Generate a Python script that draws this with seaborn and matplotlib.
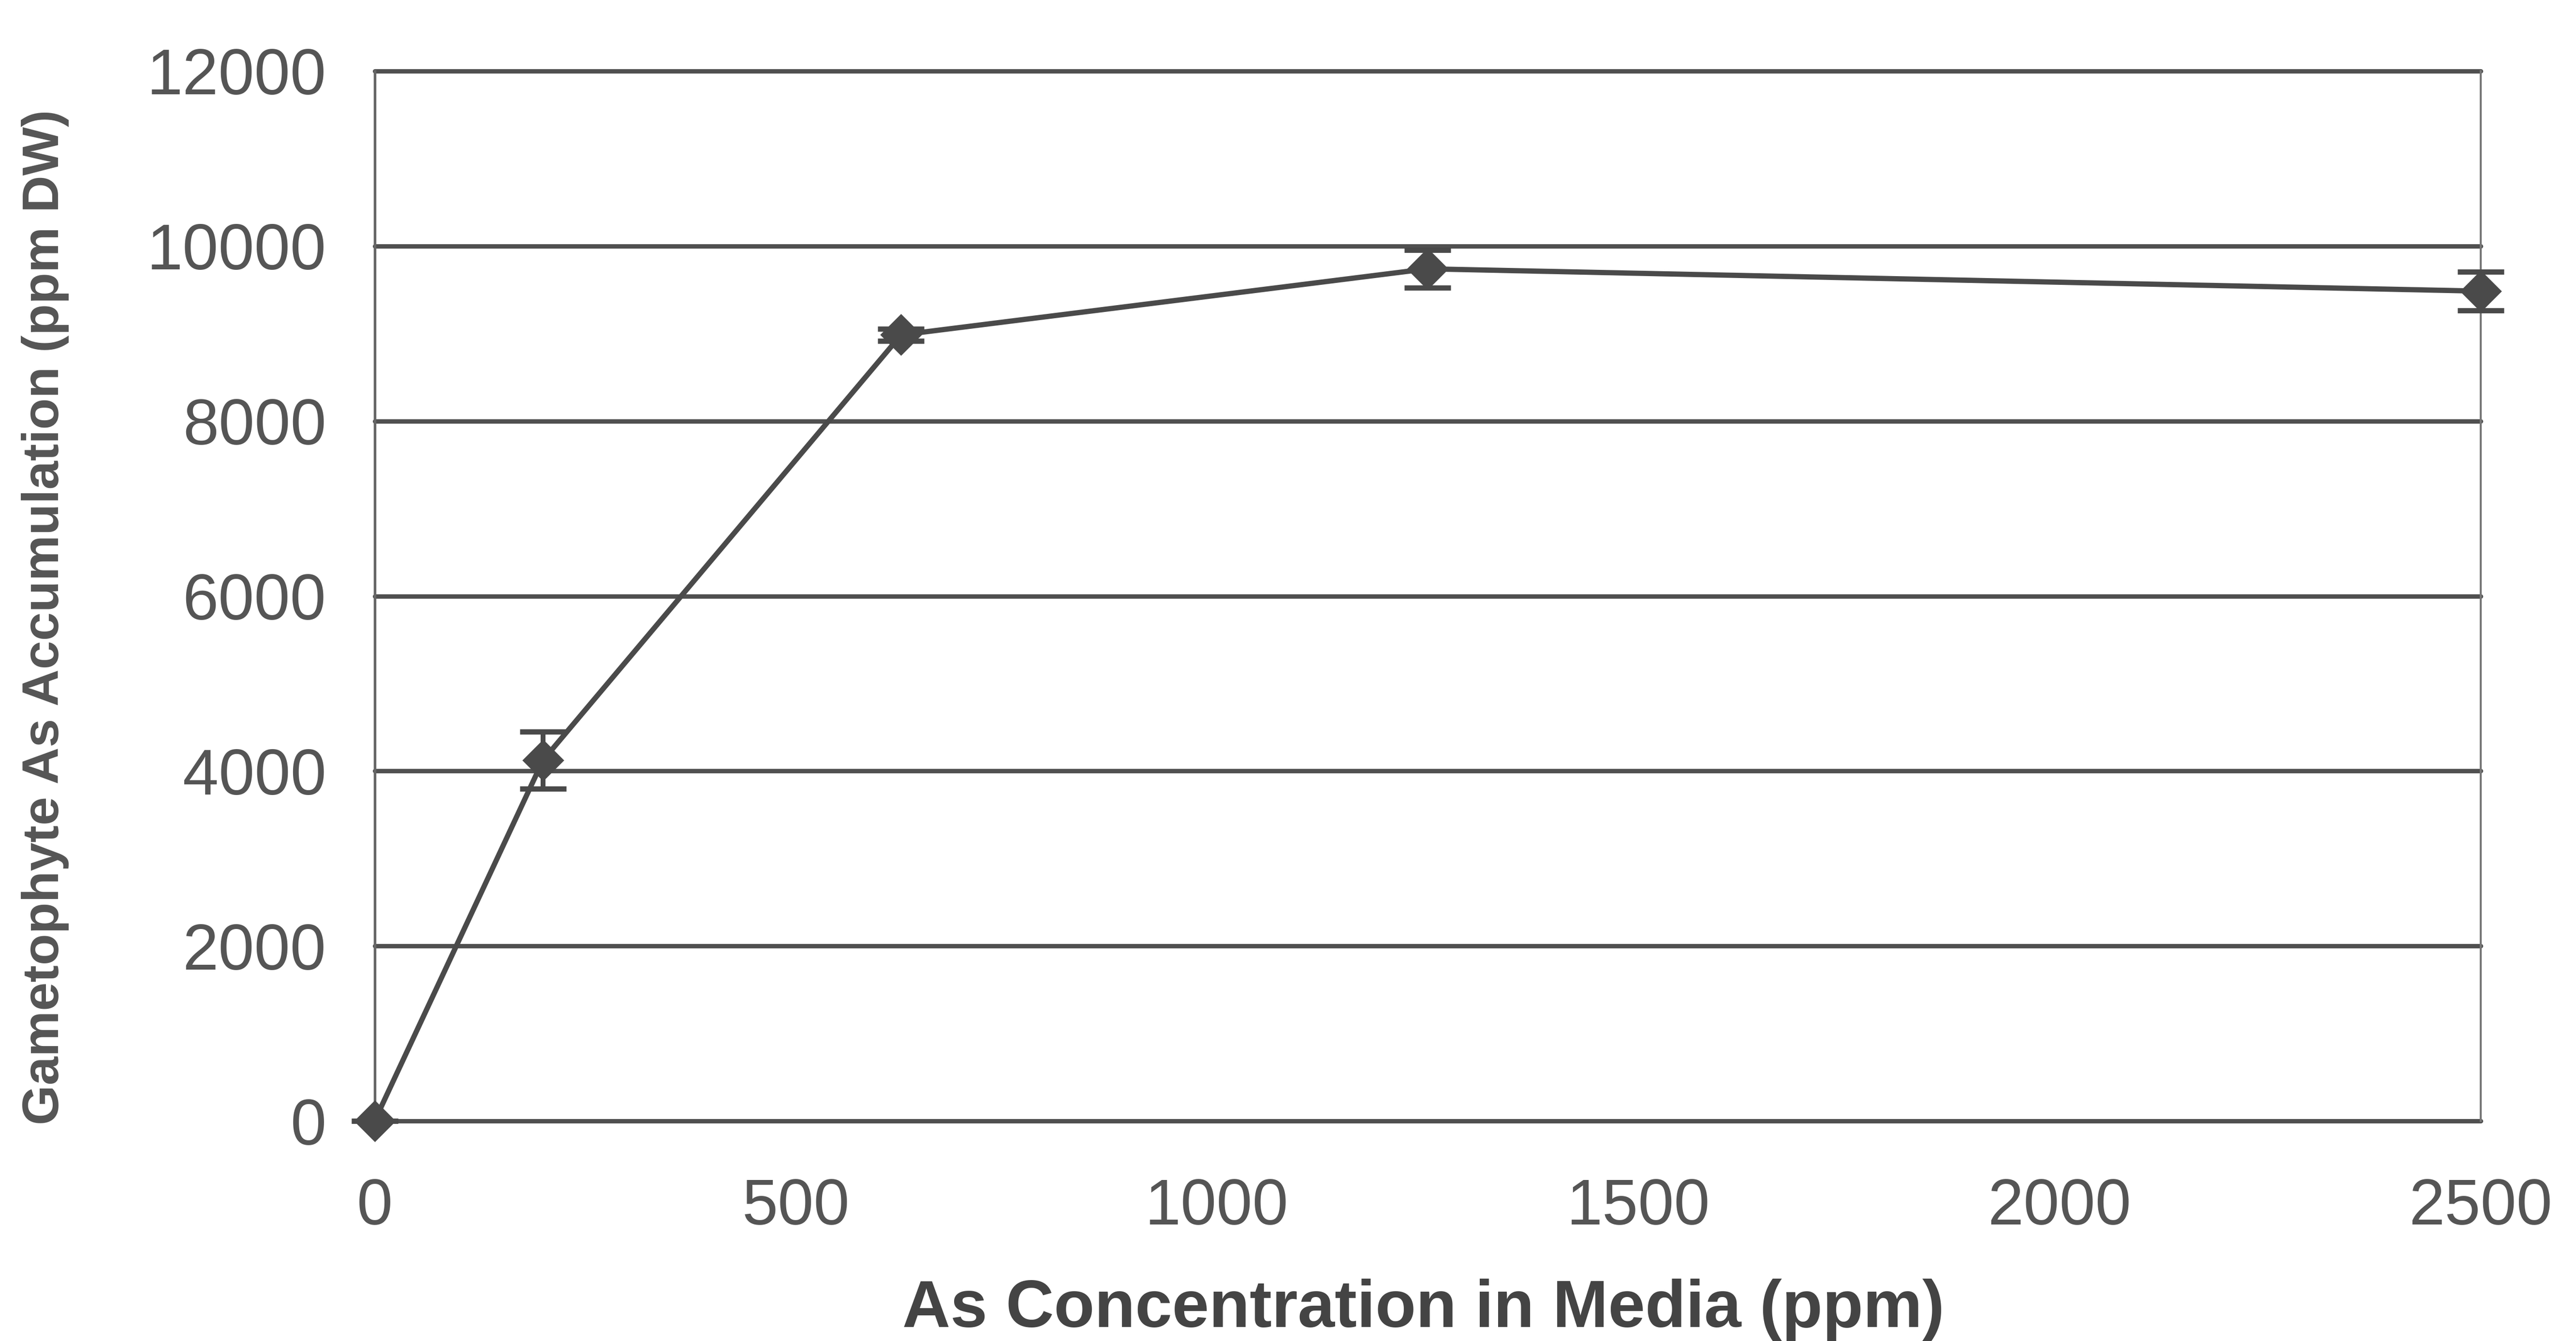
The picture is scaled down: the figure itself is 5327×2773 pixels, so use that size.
import matplotlib
matplotlib.use("Agg")
import matplotlib.pyplot as plt
import seaborn as sns
import pandas as pd

# data
conc = [0, 200, 625, 1250, 2500]
accum = [0, 4125, 8985, 9740, 9485]
err = [0, 325, 70, 215, 222]

x_ticks = [0, 500, 1000, 1500, 2000, 2500]
y_ticks = [0, 2000, 4000, 6000, 8000, 10000, 12000]

sns.set_style("white")
plt.rcParams['font.family'] = ['Liberation Sans', 'DejaVu Sans']

ink = "#4a4a4a"
df = pd.DataFrame({"conc": conc, "accum": accum, "err": err})

fig = plt.figure(figsize=(5327 / 300, 2773 / 300), dpi=300)
ax = fig.add_axes([0.1454, 0.164, 0.963 - 0.1454, 0.947 - 0.164])

# horizontal gridlines
for yv in y_ticks:
    ax.axhline(yv, color="#505050", lw=2.2, zorder=1, clip_on=False)

ax.errorbar(df["conc"], df["accum"], yerr=df["err"], fmt="none",
            ecolor=ink, elinewidth=2.4, capsize=11.5, capthick=2.6,
            zorder=3, clip_on=False)
sns.lineplot(data=df, x="conc", y="accum", ax=ax, color=ink, lw=2.6,
             marker="D", markersize=14, markeredgecolor=ink, zorder=4,
             clip_on=False)

ax.set_xlim(0, 2500)
ax.set_ylim(0, 12000)
ax.set_xticks(x_ticks)
ax.set_yticks(y_ticks)
ax.tick_params(length=0, labelsize=32, labelcolor="#555555")
ax.tick_params(axis="y", pad=24)
ax.tick_params(axis="x", pad=28)

for side in ["top", "bottom"]:
    ax.spines[side].set_visible(False)
ax.spines["left"].set_color("#666666")
ax.spines["left"].set_linewidth(1.3)
ax.spines["right"].set_color("#777777")
ax.spines["right"].set_linewidth(1.0)

ax.set_xlabel("As Concentration in Media (ppm)", fontsize=33, fontweight="bold",
              color="#444444")
ax.set_ylabel("Gametophyte As Accumulation (ppm DW)", fontsize=25.5, fontweight="bold",
              color="#555555")
ax.xaxis.set_label_coords(0.498, -0.15)
ax.yaxis.set_label_coords(-0.145, 0.48)

fig.savefig("out.png", dpi=300, facecolor="white")
